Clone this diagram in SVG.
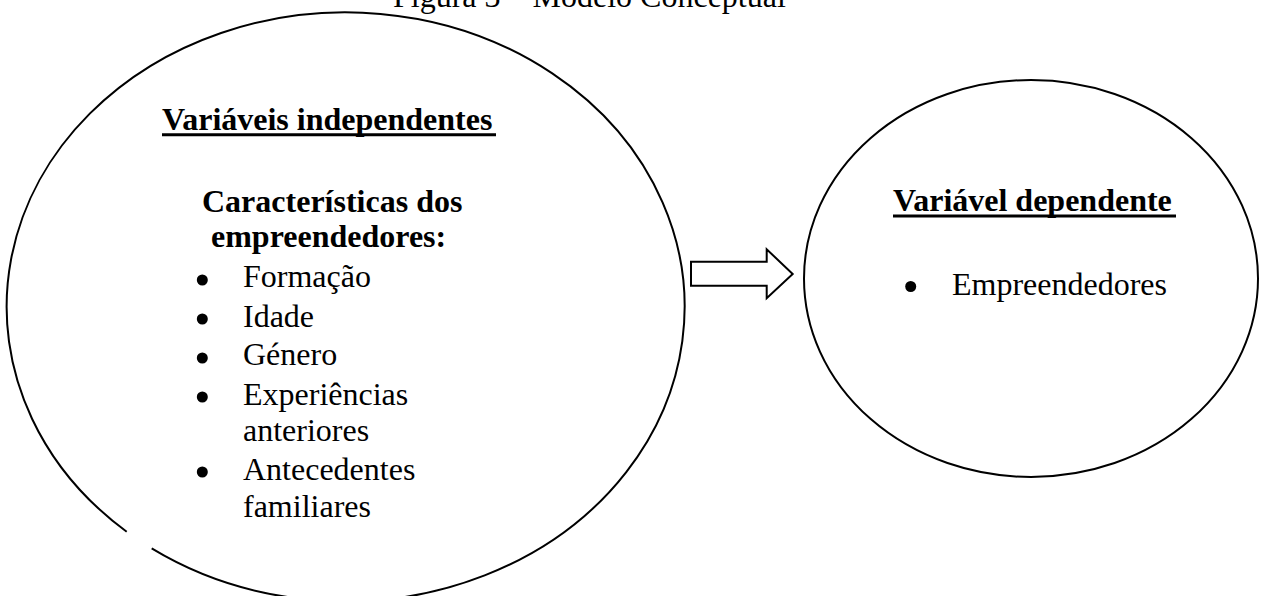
<svg xmlns="http://www.w3.org/2000/svg" width="1265" height="596" viewBox="0 0 1265 596">
<style>
  .t { font-family: "Liberation Serif", "Times New Roman", serif; font-size: 32px; fill: #000; }
  .b { font-weight: bold; }
  .shape { fill: none; stroke: #000; stroke-width: 2; }
  .ul { stroke: #000; stroke-width: 3; }
  .dot { fill: #000; }
</style>
<rect width="1265" height="596" fill="#fff"/>
<text class="t" x="393" y="7">Figura 3 – Modelo Conceptual</text>

<g id="independentes">
  <path class="shape" d="M 151.7 548.4 A 339 294.5 0 1 0 126.7 531.7"/>
  <text class="t b" x="162" y="130">Variáveis independentes</text>
  <line class="ul" x1="162" y1="134.8" x2="496" y2="134.8"/>
  <text class="t b" x="202" y="212">Características dos</text>
  <text class="t b" x="211" y="247">empreendedores:</text>
  <circle class="dot" cx="202.3" cy="280" r="5.5"/>
  <text class="t" x="243" y="287">Formação</text>
  <circle class="dot" cx="202.3" cy="319" r="5.5"/>
  <text class="t" x="243" y="326.5">Idade</text>
  <circle class="dot" cx="202.3" cy="358" r="5.5"/>
  <text class="t" x="243" y="365">Género</text>
  <circle class="dot" cx="202.3" cy="397" r="5.5"/>
  <text class="t" x="243" y="404.5">Experiências</text>
  <text class="t" x="243" y="441">anteriores</text>
  <circle class="dot" cx="202.3" cy="472" r="5.5"/>
  <text class="t" x="243" y="480">Antecedentes</text>
  <text class="t" x="243" y="516.5">familiares</text>
</g>

<g id="connectors">
  <polygon class="shape" points="691,261.7 766.7,261.7 766.7,249.3 792.7,274 766.7,298.3 766.7,285.7 691,285.7"/>
</g>

<g id="dependente">
  <ellipse class="shape" cx="1031" cy="278.5" rx="227" ry="198.5"/>
  <text class="t b" x="893" y="211">Variável dependente</text>
  <line class="ul" x1="893" y1="216" x2="1176" y2="216"/>
  <circle class="dot" cx="910.7" cy="286.5" r="5.5"/>
  <text class="t" x="952" y="295">Empreendedores</text>
</g>
</svg>
